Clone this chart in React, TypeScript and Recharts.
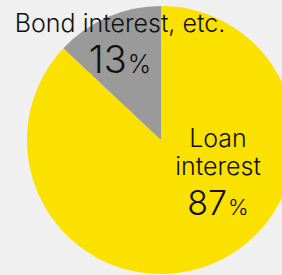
import { PieChart, Pie, Cell } from "recharts";

const names = ["Loan interest", "Bond interest, etc."];
const nameLines = [["Loan", "interest"], ["Bond interest, etc."]];
const shares = [87, 13];
const colors = ["#fae100", "#9a9a9a"];

const data = names.map((name, i) => ({ name, value: shares[i] }));

// label layout per slice: offset from the pie centre, gap to the value line, font sizes
const labelAt = [
  { dx: 57, dy: 7, valueGap: 40, num: 34, pct: 22 },
  { dx: -41, dy: -108, valueGap: 41, num: 38, pct: 25 },
];

const renderLabel = (props: any) => {
  const { cx, cy, index } = props;
  const pos = labelAt[index];
  const x = cx + pos.dx;
  const lines = nameLines[index];
  const lineGap = 28;
  const valueY = cy + pos.dy + (lines.length - 1) * lineGap + pos.valueGap;
  return (
    <g key={`lbl-${index}`} fontFamily="Inter, sans-serif" fill="#111">
      {lines.map((ln, i) => (
        <text key={i} x={x} y={cy + pos.dy + i * lineGap} textAnchor="middle" fontSize={25} fontWeight={330} fill="#111">
          {ln}
        </text>
      ))}
      <text x={x} y={valueY} textAnchor="middle" fill="#111" fontWeight={340}>
        <tspan fontSize={pos.num}>{shares[index]}</tspan>
        <tspan fontSize={pos.pct} fontWeight={330} dx={1}>%</tspan>
      </text>
    </g>
  );
};

const App = () => {
  return (
    <div style={{ width: 282, height: 275, background: "#f0f0f0" }}>
      <style>{"body{margin:0}"}</style>
      <PieChart width={282} height={275} margin={{ top: 0, right: 0, bottom: 0, left: 0 }}>
        <Pie
          data={data}
          dataKey="value"
          nameKey="name"
          cx={161}
          cy={140}
          outerRadius={134}
          startAngle={90}
          endAngle={-270}
          stroke="none"
          label={renderLabel}
          labelLine={false}
          isAnimationActive={false}
        >
          {data.map((d, i) => (
            <Cell key={d.name} fill={colors[i]} />
          ))}
        </Pie>
      </PieChart>
    </div>
  );
};

export default App;
